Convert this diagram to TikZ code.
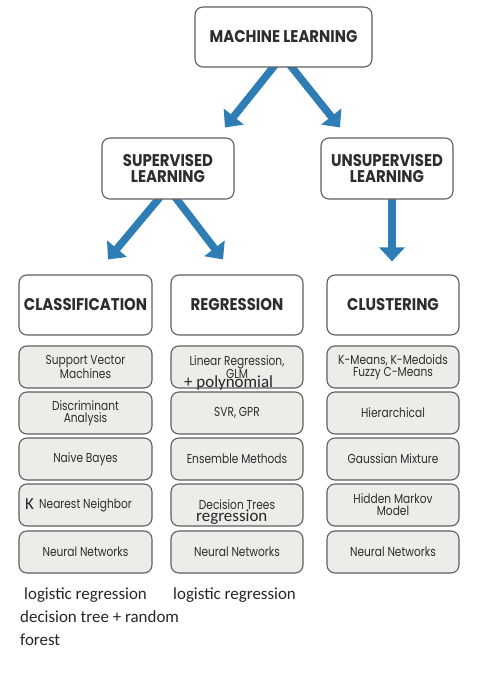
\documentclass[tikz,border=0pt]{standalone}
\usepackage{fontspec}
\newfontfamily\hfont{Poppins}[FakeStretch=0.88]
\newfontfamily\bfont{Poppins}[FakeStretch=0.82]
\newfontfamily\cfont{Carlito}
\usetikzlibrary{arrows.meta,calc}
\pgfdeclarelayer{background}
\pgfsetlayers{background,main}
\definecolor{arrowblue}{RGB}{46,125,180}
\definecolor{boxfill}{RGB}{238,236,233}
\definecolor{boxline}{RGB}{95,95,95}
\definecolor{txt}{RGB}{45,45,45}
\begin{document}
\begin{tikzpicture}[x=1bp,y=-1bp,
  hdrbox/.style={draw=boxline,line width=1.1bp,rounded corners=8bp,fill=white,align=center,
    font=\hfont\bfseries\fontsize{17}{16}\selectfont,text=txt,inner sep=0pt},
  itembox/.style={draw=boxline,line width=1.1bp,rounded corners=8bp,fill=boxfill,
    minimum width=132bp,minimum height=42bp,align=center,
    font=\bfont\fontsize{13}{12}\selectfont,text=txt,inner sep=0pt},
  note/.style={font=\cfont\fontsize{17}{20}\selectfont,text=black!85,inner sep=0pt},
  bluearrow/.style={draw=arrowblue,line width=7.5bp,shorten <=-5bp,
    -{Triangle[length=14bp,width=25bp]}}]
\useasboundingbox (0,0) rectangle (477,695);

% top levels
\node[hdrbox,minimum width=177bp,minimum height=60bp] (ml) at (283.5,37) {MACHINE LEARNING};
\node[hdrbox,minimum width=132bp,minimum height=61bp] (sup) at (168,168.5) {SUPERVISED\\LEARNING};
\node[hdrbox,minimum width=132bp,minimum height=61bp] (uns) at (387,168.5) {UNSUPERVISED\\LEARNING};
\node[hdrbox,minimum width=133bp,minimum height=60bp] (cls) at (85.5,305) {CLASSIFICATION};
\node[hdrbox,minimum width=132bp,minimum height=60bp] (reg) at (237,305) {REGRESSION};
\node[hdrbox,minimum width=132bp,minimum height=60bp] (clu) at (393,305) {CLUSTERING};

% classification items
\node[itembox,minimum width=133bp] (c1) at (85.5,367) {Support Vector\\Machines};
\node[itembox,minimum width=133bp] (c2) at (85.5,413) {Discriminant\\Analysis};
\node[itembox,minimum width=133bp] (c3) at (85.5,459) {Naive Bayes};
\node[itembox,minimum width=133bp] (c4) at (85.5,505) {Nearest Neighbor};
\node[itembox,minimum width=133bp] (c5) at (85.5,552) {Neural Networks};

% regression items
\node[itembox] (r1) at (237,367) {Linear Regression,\\GLM};
\node[itembox] (r2) at (237,413) {SVR, GPR};
\node[itembox] (r3) at (237,459) {Ensemble Methods};
\node[itembox] (r4) at (237,505) {Decision Trees};
\node[itembox] (r5) at (237,552) {Neural Networks};

% clustering items
\node[itembox] (k1) at (393,367) {K-Means, K-Medoids\\Fuzzy C-Means};
\node[itembox] (k2) at (393,413) {Hierarchical};
\node[itembox] (k3) at (393,459) {Gaussian Mixture};
\node[itembox] (k4) at (393,505) {Hidden Markov\\Model};
\node[itembox] (k5) at (393,552) {Neural Networks};

% arrows
\begin{pgfonlayer}{background}
\fill[white] (0,0) rectangle (477,695);
\draw[bluearrow] ($(ml.south)+(-10.5,0)$) -- ($(sup.north)+(57,-10)$);
\draw[bluearrow] ($(ml.south)+(8.5,0)$) -- ($(uns.north)+(-47,-10)$);
\draw[bluearrow] ($(sup.south)+(-10,0)$) -- ($(cls.north)+(22.5,-15)$);
\draw[bluearrow] ($(sup.south)+(9,0)$) -- ($(reg.north)+(-14,-15)$);
\draw[bluearrow] ($(uns.south)+(5,0)$) -- ($(clu.north)+(-1,-13)$);
\end{pgfonlayer}

% handwritten-style additions
\node[note,anchor=base west] (poly) at (184,387) {+ polynomial};
\node[note,anchor=base west] (dtr) at (196,521) {regression};
\node[note,anchor=base west] (kk) at (25,509) {K};
\node[note,anchor=base west] (lr1) at (24,599) {logistic regression};
\node[note,anchor=base west] (lr2) at (173,599) {logistic regression};
\node[note,anchor=base west] (dt1) at (20,622) {decision tree + random};
\node[note,anchor=base west] (dt2) at (20,645) {forest};
\end{tikzpicture}
\end{document}
